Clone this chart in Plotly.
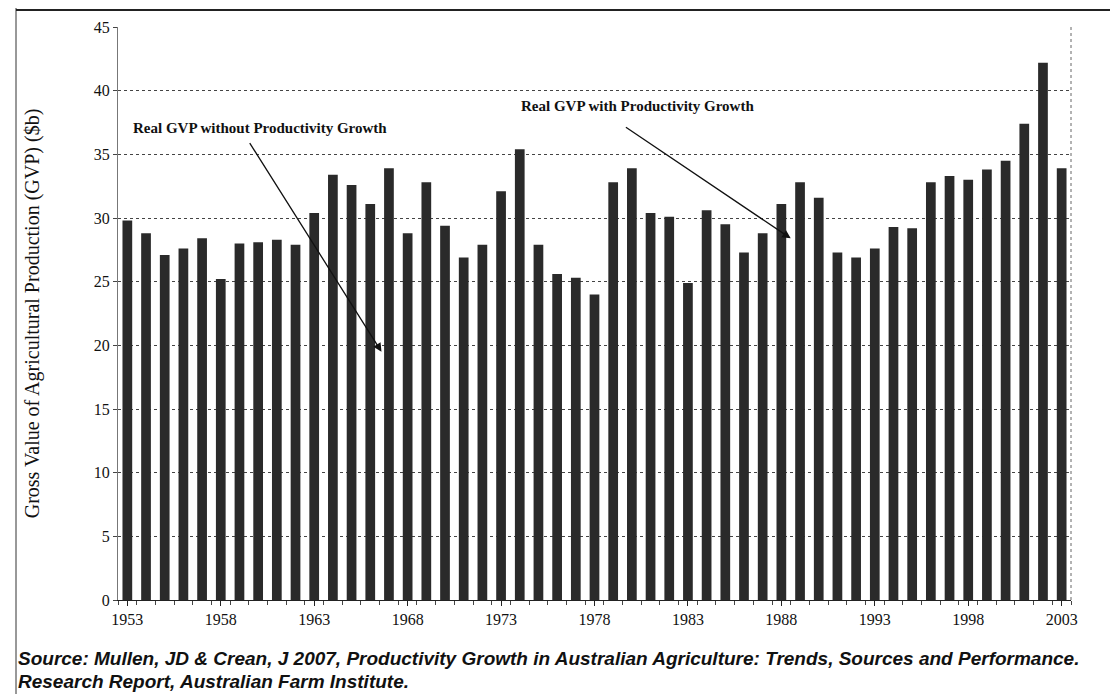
import plotly.graph_objects as go

years = list(range(1953, 2004))
gvp = [29.8, 28.8, 27.1, 27.6, 28.4, 25.2, 28.0, 28.1, 28.3, 27.9,
       30.4, 33.4, 32.6, 31.1, 33.9, 28.8, 32.8, 29.4, 26.9, 27.9,
       32.1, 35.4, 27.9, 25.6, 25.3, 24.0, 32.8, 33.9, 30.4, 30.1,
       24.9, 30.6, 29.5, 27.3, 28.8, 31.1, 32.8, 31.6, 27.3, 26.9,
       27.6, 29.3, 29.2, 32.8, 33.3, 33.0, 33.8, 34.5, 37.4, 42.2, 33.9]
tick_years = [1953, 1958, 1963, 1968, 1973, 1978, 1983, 1988, 1993, 1998, 2003]
y_ticks = [0, 5, 10, 15, 20, 25, 30, 35, 40, 45]

serif = "Liberation Serif, Times New Roman, serif"
sans = "Liberation Sans, Arial, sans-serif"

fig = go.Figure()
fig.add_trace(go.Bar(x=years, y=gvp, width=0.52,
                     marker=dict(color="#2a2a2a", line=dict(width=0)),
                     showlegend=False))

fig.update_layout(
    width=1118, height=694,
    margin=dict(l=110, r=55, t=19, b=102),
    paper_bgcolor="white", plot_bgcolor="white",
    font=dict(family=serif, size=15, color="#111"),
    xaxis=dict(range=[1952.5, 2003.5], tickvals=tick_years,
               ticktext=[str(t) for t in tick_years],
               showgrid=False, showline=True, linecolor="#222", linewidth=1,
               ticks="outside", ticklen=5, tickcolor="#222",
               minor=dict(tick0=1952.5, dtick=1, ticks="outside", ticklen=4, tickcolor="#444"),
               tickfont=dict(family=serif, size=16, color="#111"), zeroline=False),
    yaxis=dict(range=[0, 45], tickvals=y_ticks, showgrid=True,
               gridcolor="#444", griddash="dot", gridwidth=1,
               showline=True, linecolor="#777", linewidth=1,
               ticks="outside", ticklen=4, tickcolor="#444",
               zeroline=False, tickfont=dict(family=serif, size=16, color="#111"),
               title=dict(text="Gross Value of Agricultural Production (GVP) ($b)",
                          font=dict(family=serif, size=20, color="#111"), standoff=48)),
    bargap=0.5,
)

# right dotted border of plot area
fig.add_shape(type="line", xref="paper", yref="paper", x0=1, x1=1, y0=0, y1=1,
              line=dict(color="#666", width=1, dash="dot"))

# annotations with arrows
fig.add_annotation(x=1966.6, y=19.5, ax=1959.5, ay=36.0, xref="x", yref="y",
                   axref="x", ayref="y", text="", showarrow=True,
                   arrowhead=2, arrowsize=1.3, arrowwidth=1.3, arrowcolor="#111")
fig.add_annotation(x=1960.1, y=37.1, xref="x", yref="y", text="<b>Real GVP without Productivity Growth</b>",
                   showarrow=False, font=dict(family=serif, size=15, color="#111"))
fig.add_annotation(x=1988.5, y=28.4, ax=1979.6, ay=37.2, xref="x", yref="y",
                   axref="x", ayref="y", text="", showarrow=True,
                   arrowhead=2, arrowsize=1.3, arrowwidth=1.3, arrowcolor="#111")
fig.add_annotation(x=1980.3, y=38.8, xref="x", yref="y", text="<b>Real GVP with Productivity Growth</b>",
                   showarrow=False, font=dict(family=serif, size=15, color="#111"))

# outer frame lines (paper pixel coords converted)
W, H = 1118, 694
pw, ph = W - 110 - 55, H - 19 - 102
def px(xp):
    return (xp - 110) / pw
def py(yp):
    return (H - 102 - yp) / ph
fig.add_shape(type="line", xref="paper", yref="paper", x0=px(8), x1=px(8), y0=py(0), y1=py(694),
              line=dict(color="#333", width=1))
fig.add_shape(type="line", xref="paper", yref="paper", x0=px(1108), x1=px(1108), y0=py(0), y1=py(636),
              line=dict(color="#777", width=1))
fig.add_shape(type="line", xref="paper", yref="paper", x0=px(8), x1=px(1108), y0=py(2), y1=py(2),
              line=dict(color="#222", width=2))

# source text
fig.add_annotation(xref="paper", yref="paper", x=px(9), y=py(650), xanchor="left", yanchor="middle",
                   align="left", showarrow=False, borderpad=0,
                   text="<b><i>Source: Mullen, JD &amp; Crean, J 2007, Productivity Growth in Australian Agriculture: Trends, Sources and Performance.</i></b>",
                   font=dict(family=sans, size=19, color="#111"))
fig.add_annotation(xref="paper", yref="paper", x=px(9), y=py(673), xanchor="left", yanchor="middle",
                   align="left", showarrow=False, borderpad=0,
                   text="<b><i>Research Report, Australian Farm Institute.</i></b>",
                   font=dict(family=sans, size=19, color="#111"))

fig.write_html("out.html")
